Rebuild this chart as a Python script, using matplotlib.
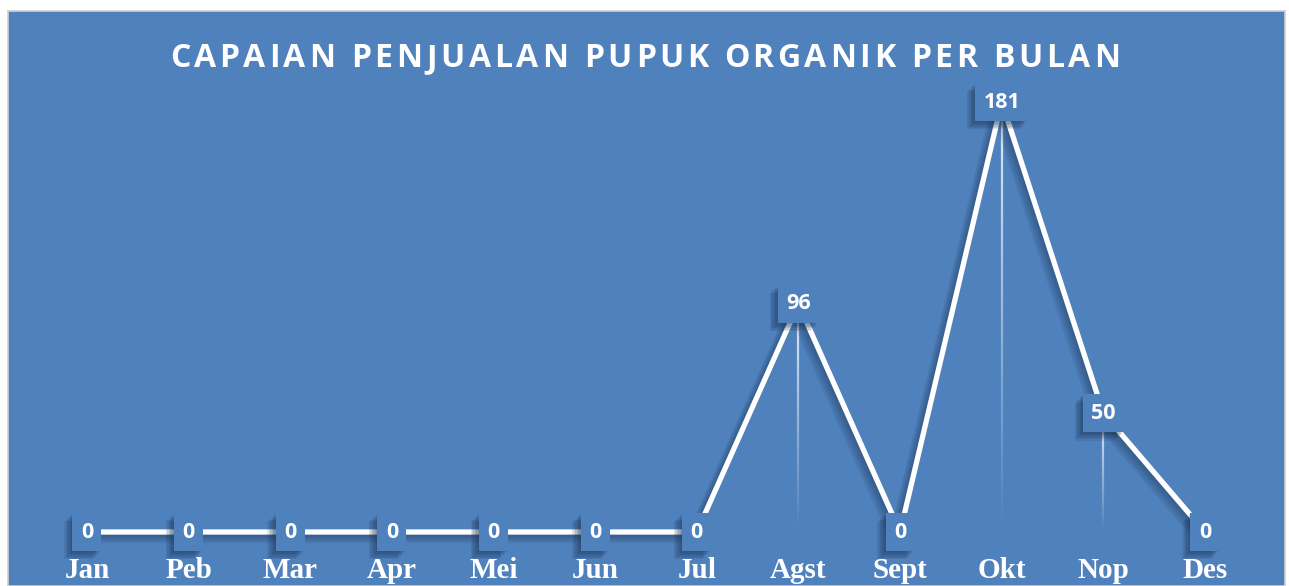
import matplotlib
matplotlib.use("Agg")
import matplotlib.pyplot as plt
import matplotlib.patheffects as pe
from matplotlib.patches import Rectangle
from matplotlib.collections import LineCollection
from matplotlib.transforms import ScaledTranslation
import numpy as np

months = ["Jan", "Peb", "Mar", "Apr", "Mei", "Jun", "Jul", "Agst", "Sept", "Okt", "Nop", "Des"]
sales = [0, 0, 0, 0, 0, 0, 0, 96, 0, 181, 50, 0]
title = "CAPAIAN PENJUALAN PUPUK ORGANIK PER BULAN"

BLUE = "#4F81BD"
SHADOW = "#1A3250"
W, H = 1289, 586

fig = plt.figure(figsize=(W / 100, H / 100), dpi=100)
fig.patch.set_facecolor("white")

# blue chart area
ax = fig.add_axes([8 / W, 0, (1285 - 8) / W, (H - 11) / H])
ax.set_facecolor(BLUE)
for s in ax.spines.values():
    s.set_color("#D0D0D0")
    s.set_linewidth(1.2)
ax.set_xticks([])
ax.set_yticks([])

px_x = (1205 - 87) / 11
px_y = (532 - 102) / 181
ax.set_xlim(-(87 - 8) / px_x, 11 + (1285 - 1205) / px_x)
ax.set_ylim(-(586 - 532) / px_y, 181 + (102 - 11) / px_y)

x = np.arange(len(months))

# fading drop lines
for xi, yi in zip(x, sales):
    if yi <= 0:
        continue
    ys = np.linspace(yi, 0, 40)
    segs = [[(xi, ys[k]), (xi, ys[k + 1])] for k in range(len(ys) - 1)]
    alphas = np.linspace(0.85, 0.0, len(segs))
    cols = [(1, 1, 1, a) for a in alphas]
    ax.add_collection(LineCollection(segs, colors=cols, linewidths=1.6, zorder=2))

# main line, soft shadow
line_fx = [pe.SimpleLineShadow(offset=(-o, -o), shadow_color=SHADOW, alpha=0.12, linewidth=3.8 + o)
           for o in (1, 2, 3, 4)]
ax.plot(x, sales, color="white", lw=3.8, zorder=3, solid_capstyle="butt",
        path_effects=line_fx + [pe.Normal()])

# value labels in boxes
box_fx = [pe.SimplePatchShadow(offset=(-o, -o), shadow_rgbFace=SHADOW, alpha=0.12)
          for o in (1, 2, 3, 4, 5, 6)]
for xi, yi in zip(x, sales):
    txt = str(yi)
    bw = (12 * len(txt) + 17) / 100
    bh = 38 / 100
    tr = fig.dpi_scale_trans + ScaledTranslation(xi, yi, ax.transData)
    rect = Rectangle((-bw / 2, -bh / 2), bw, bh, transform=tr, facecolor=BLUE,
                     edgecolor="none", zorder=4, path_effects=box_fx + [pe.Normal()])
    ax.add_patch(rect)
    ax.text(xi, yi, txt, color="white", fontsize=15.5, fontweight="bold", family="Open Sans",
            ha="center", va="center", zorder=5)

# month labels
for xi, m in zip(x, months):
    ax.text(xi, (586 - 578) / (H - 11), m, transform=ax.get_xaxis_transform(),
            color="white", fontsize=21, fontweight="bold", family="Liberation Serif",
            ha="center", va="baseline", zorder=5)

# title with letter spacing
renderer = fig.canvas.get_renderer()
tsize = 23

def text_w(s):
    t = fig.text(0, 0, s, fontsize=tsize, fontweight="bold", family="Open Sans")
    w = t.get_window_extent(renderer).width
    t.remove()
    return w

base = text_w("XX")
adv = [text_w("X" + c + "X") - base for c in title]
left, right = 170, 1120
track = (right - left - sum(adv)) / (len(title) - 1)
xpos = left
for c, a in zip(title, adv):
    if c != " ":
        fig.text(xpos / W, (H - 67) / H, c, fontsize=tsize, fontweight="bold",
                 family="Open Sans", color="white", ha="left", va="baseline")
    xpos += a + track

fig.savefig("out.png", dpi=100, facecolor="white")
